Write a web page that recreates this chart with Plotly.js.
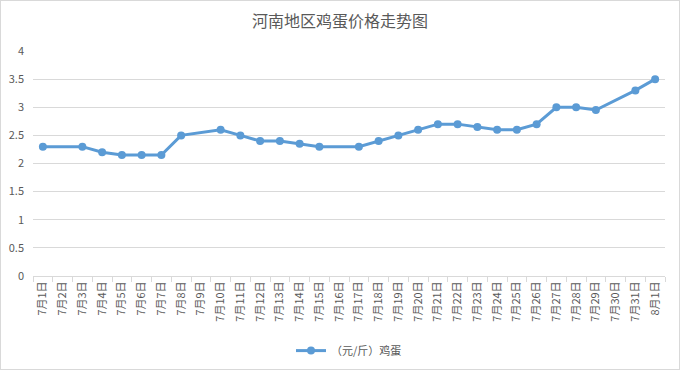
<!DOCTYPE html>
<html><head><meta charset="utf-8">
<script src="https://cdn.plot.ly/plotly-3.0.1.min.js"></script>
<style>html,body{margin:0;padding:0;background:#fff}#c{width:678px;height:368px;border:1px solid #d9d9d9}</style>
</head><body><div id="c"></div>
<script>
const categories = ['7月1日','7月2日','7月3日','7月4日','7月5日','7月6日','7月7日','7月8日','7月9日','7月10日','7月11日','7月12日','7月13日','7月14日','7月15日','7月16日','7月17日','7月18日','7月19日','7月20日','7月21日','7月22日','7月23日','7月24日','7月25日','7月26日','7月27日','7月28日','7月29日','7月30日','7月31日','8月1日'];
const eggPrice = [2.3,null,2.3,2.2,2.15,2.15,2.15,2.5,null,2.6,2.5,2.4,2.4,2.35,2.3,null,2.3,2.4,2.5,2.6,2.7,2.7,2.65,2.6,2.6,2.7,3.0,3.0,2.95,null,3.3,3.5];
const seriesName = '（元/斤）鸡蛋';
const yTicks = [0,0.5,1,1.5,2,2.5,3,3.5,4];
const yTickText = ['0','0.5','1','1.5','2','2.5','3','3.5','4'];

const font = '"Noto Sans CJK SC", "Liberation Sans", sans-serif';
Plotly.newPlot('c', [{
  x: categories, y: eggPrice, name: seriesName, type: 'scatter', mode: 'lines+markers',
  connectgaps: true,
  line: {color: '#5b9bd5', width: 3},
  marker: {color: '#5b9bd5', size: 8}
}], {
  width: 678, height: 368,
  margin: {l: 32, r: 14, t: 50, b: 93},
  paper_bgcolor: '#fff', plot_bgcolor: '#fff',
  font: {family: font, color: '#595959', size: 11},
  title: {text: '河南地区鸡蛋价格走势图', font: {family: font, size: 16, color: '#595959'}, x: 0.5, xanchor: 'center', y: 0.945, yanchor: 'middle'},
  xaxis: {type: 'category', range: [-0.5, categories.length - 0.5], autorange: false, automargin: false,
    tickangle: -90, showgrid: false, showline: true, linecolor: '#d9d9d9', linewidth: 1,
    ticks: 'outside', tickson: 'boundaries', ticklen: 5, tickcolor: '#d9d9d9', tickfont: {size: 11, color: '#595959'}},
  yaxis: {range: [0, 4], autorange: false, automargin: false, tickvals: yTicks, ticktext: yTickText, showgrid: true, gridcolor: '#d9d9d9', zeroline: false,
    showline: false, ticks: '', tickfont: {size: 11, color: '#595959'}, ticklabelstandoff: 8},
  showlegend: true,
  legend: {orientation: 'h', x: 0.5, xanchor: 'center', yref: 'container', y: 0.05, yanchor: 'middle', font: {size: 11, color: '#595959'}}
}, {displayModeBar: false, staticPlot: true});
</script></body></html>
